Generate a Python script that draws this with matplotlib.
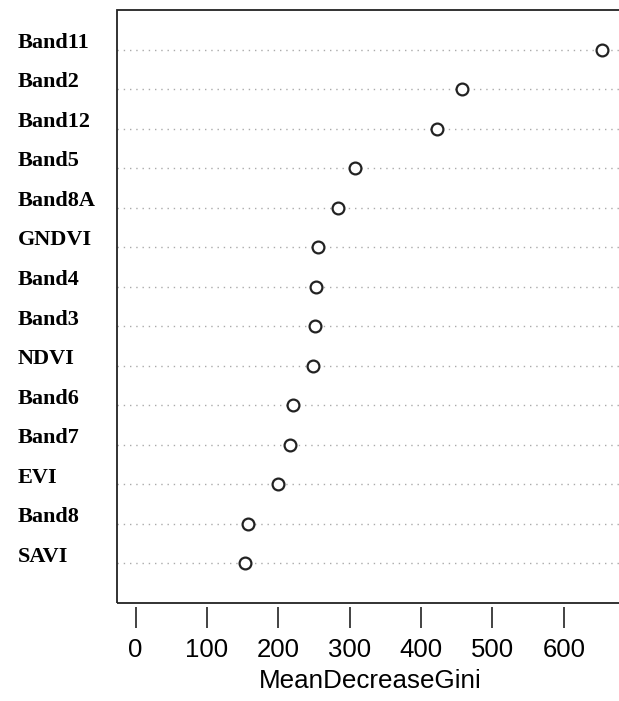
import matplotlib
matplotlib.use('Agg')
import matplotlib.pyplot as plt
import matplotlib.transforms as mtransforms
from matplotlib.patches import Rectangle

# variable importance, top to bottom
names = ['Band11', 'Band2', 'Band12', 'Band5', 'Band8A', 'GNDVI', 'Band4',
         'Band3', 'NDVI', 'Band6', 'Band7', 'EVI', 'Band8', 'SAVI']
gini = [654, 458, 423, 308, 283, 256, 253, 251, 249, 220, 216, 199, 158, 153]
xticks = [0, 100, 200, 300, 400, 500, 600]

fig = plt.figure(figsize=(6.19, 7.01), dpi=100)
ax = fig.add_axes([117 / 619, 1 - 603 / 701, (623 - 117) / 619, (603 - 10) / 701])

n = len(names)
ypos = [n - i for i in range(n)]

for y in ypos:
    ax.axhline(y, color='#aaaaaa', lw=1, linestyle=(0, (1, 3.5)), zorder=1)
ax.plot(gini, ypos, 'o', mfc='white', mec='#222222', mew=1.6, ms=8.5,
        linestyle='none', zorder=3, clip_on=False)

ax.set_xlim(-26, 683)
ax.set_ylim(0, 15)

# box drawn by hand so the x ticks can sit below it with a gap
for s in ax.spines.values():
    s.set_visible(False)
ax.add_patch(Rectangle((0, 0), 1, 1, transform=ax.transAxes, fill=False,
                       lw=1.3, ec='#222222', clip_on=False, zorder=4))
ax.spines['bottom'].set_position(('outward', 3))

ax.set_xticks(xticks)
ax.tick_params(axis='x', direction='out', length=15, width=1.2, color='#222222',
               labelsize=18.5, pad=7)
for lab in ax.get_xticklabels():
    lab.set_fontfamily('Liberation Sans')
ax.set_yticks([])
ax.set_xlabel('MeanDecreaseGini', fontsize=18.7, family='Liberation Sans', labelpad=5)

trans = mtransforms.blended_transform_factory(fig.transFigure, ax.transData)
for nm, y in zip(names, ypos):
    ax.text(18 / 619, y + 0.17, nm, transform=trans, ha='left', va='center',
            fontsize=16, fontweight='bold', family='Liberation Serif')

fig.savefig('out.png', dpi=100)
